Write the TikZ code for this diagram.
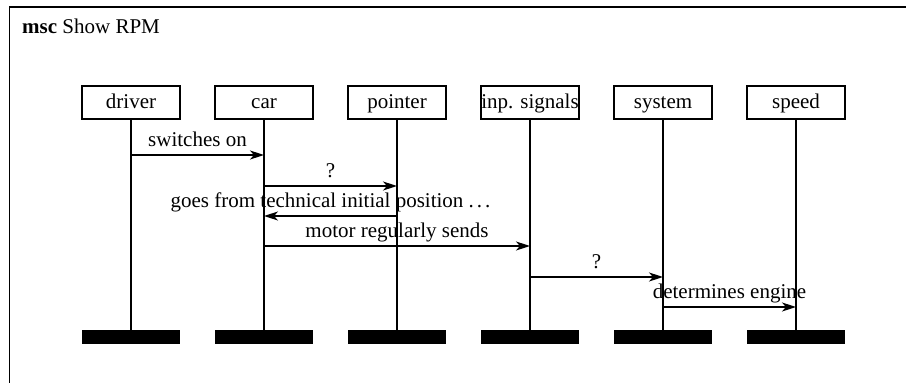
\documentclass[tikz,border=0pt]{standalone}
\usepackage{fontspec}
\setmainfont{Liberation Serif}
\usetikzlibrary{arrows.meta}

\begin{document}
\begin{tikzpicture}[x=1pt, y=-1pt, every node/.style={font=\fontsize{21}{25}\selectfont},
    inst/.style={draw=black, line width=1.5pt, fill=white, minimum width=98pt, minimum height=33pt, inner sep=0pt, text height=15pt, text depth=4pt},
    endbar/.style={fill=black, minimum width=98pt, minimum height=14pt, inner sep=0pt},
    msg/.style={-{Stealth[length=14pt, width=9pt, inset=4pt]}, line width=1.6pt},
    lbl/.style={midway, anchor=base, yshift=9pt, inner sep=0pt}]
    \useasboundingbox (0,0) rectangle (906,383);
    \clip (0,0) rectangle (906,383);

    % Frame and title
    \draw[line width=1.6pt] (9.5,7) rectangle (940,420);
    \node[anchor=base west, inner sep=0pt] (title) at (22,33) {\textbf{msc} Show RPM};

    % Instances
    \node[inst] (driver) at (131,102.5) {driver};
    \node[inst] (car) at (264,102.5) {car};
    \node[inst] (pointer) at (397,102.5) {pointer};
    \node[inst] (inp) at (530,102.5) {inp. signals};
    \node[inst] (system) at (663,102.5) {system};
    \node[inst] (speed) at (796,102.5) {speed};

    % Instance ends
    \node[endbar] (driverend) at (131,337) {};
    \node[endbar] (carend) at (264,337) {};
    \node[endbar] (pointerend) at (397,337) {};
    \node[endbar] (inpend) at (530,337) {};
    \node[endbar] (systemend) at (663,337) {};
    \node[endbar] (speedend) at (796,337) {};

    % Lifelines
    \foreach \i in {driver, car, pointer, inp, system, speed} {
        \draw[line width=1.5pt] (\i.south) -- (\i end.north);
    }

    % Message rows
    \coordinate (m1) at (0,155);
    \coordinate (m2) at (0,186);
    \coordinate (m3) at (0,216);
    \coordinate (m4) at (0,246);
    \coordinate (m5) at (0,277);
    \coordinate (m6) at (0,307);

    % Messages
    \draw[msg] (driver |- m1) -- (car |- m1) node[lbl] {switches on};
    \draw[msg] (car |- m2) -- (pointer |- m2) node[lbl] {?};
    \draw[msg] (pointer |- m3) -- (car |- m3) node[lbl] {goes from technical initial position .\hspace{3pt}.\hspace{3pt}.};
    \draw[msg] (car |- m4) -- (inp |- m4) node[lbl] {motor regularly sends};
    \draw[msg] (inp |- m5) -- (system |- m5) node[lbl] {?};
    \draw[msg] (system |- m6) -- (speed |- m6) node[lbl] {determines engine};
\end{tikzpicture}
\end{document}
